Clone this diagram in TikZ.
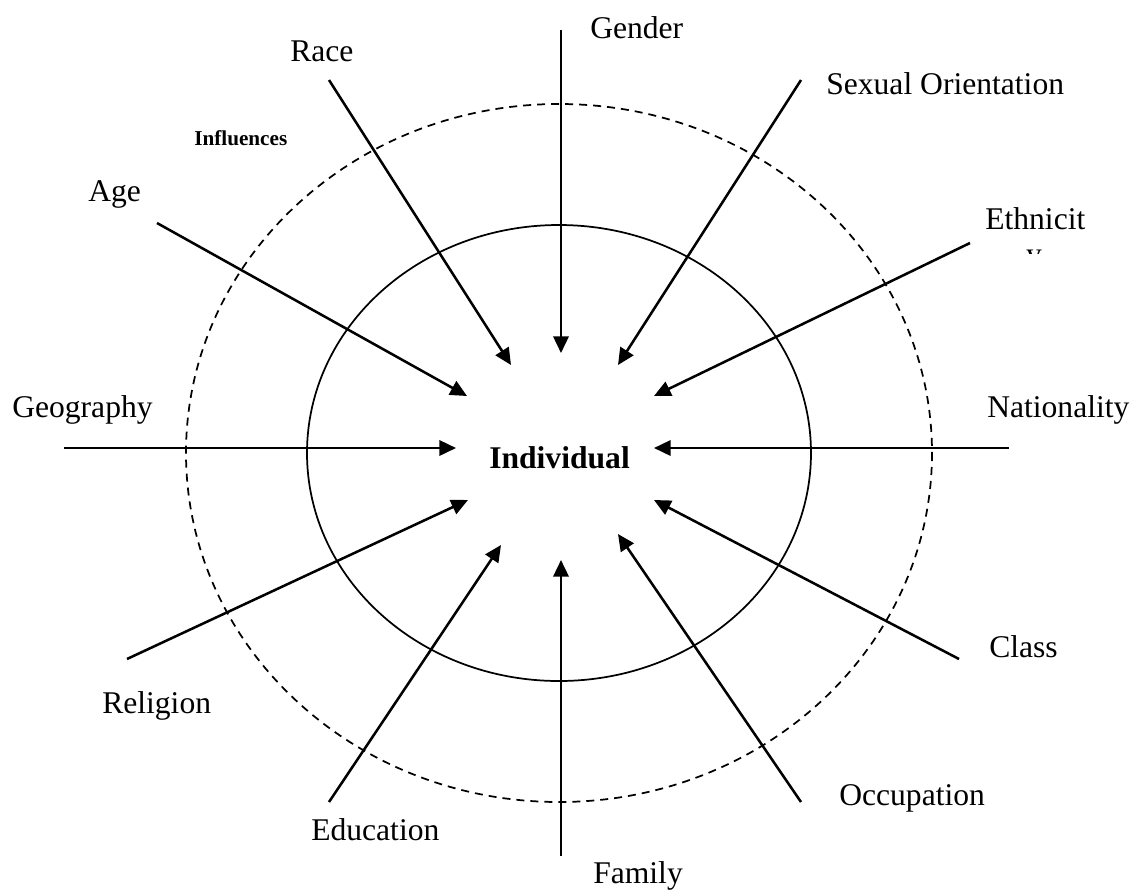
\documentclass[tikz,border=0pt]{standalone}
\usepackage{fontspec}
\setmainfont{Liberation Serif}
\usetikzlibrary{arrows.meta}

\begin{document}
\begin{tikzpicture}[x=0.75pt,y=-0.75pt,
  influence/.style={line width=1.9pt,-{Triangle[length=12.5pt,width=11.5pt]}},
  ring/.style={line width=1.3pt},
  outerring/.style={line width=1.3pt,dash pattern=on 6pt off 4.5pt},
  factor/.style={inner sep=0pt,anchor=base west,font=\fontsize{23.7}{28}\selectfont},
  centre/.style={inner sep=0pt,anchor=base west,font=\fontsize{23.7}{28}\selectfont\bfseries},
  caption/.style={inner sep=0pt,anchor=base west,font=\fontsize{15.9}{19}\selectfont\bfseries}]
\useasboundingbox (0,0) rectangle (1132,890);

% the two circles of influence
\draw[ring] (559,453) ellipse [x radius=252, y radius=228];
\draw[outerring] (559,453) ellipse [x radius=373, y radius=349];

% centre and caption
\node[centre] (individual) at (489,468) {Individual};
\node[caption] (influences) at (194,145) {Influences};

% factor labels
\node[factor] (gender)      at (590,38)  {Gender};
\node[factor] (race)        at (290,61)  {Race};
\node[factor] (sexual)      at (826,94)  {Sexual Orientation};
\node[factor] (age)         at (88,201)  {Age};
\node[factor] (ethnicity)   at (985,229) {Ethnicit};
\node[factor] (geography)   at (12,417)  {Geography};
\node[factor] (nationality) at (987,417) {Nationality};
\node[factor] (class)       at (989,657) {Class};
\node[factor] (religion)    at (102,713) {Religion};
\node[factor] (occupation)  at (839,805) {Occupation};
\node[factor] (education)   at (311,840) {Education};
\node[factor] (family)      at (593,883) {Family};

% wrapped tail of the Ethnicity label, cut off by its frame
\begin{scope}
  \clip (1015,249.5) rectangle (1055,253.5);
  \node[factor,anchor=base] (ethnicity-y) at (1034,264) {y};
\end{scope}

% arrow ends
\coordinate (gender-s)      at (561,30);   \coordinate (gender-t)      at (561,353);
\coordinate (race-s)        at (329,80);   \coordinate (race-t)        at (511,365);
\coordinate (sexual-s)      at (801,80);   \coordinate (sexual-t)      at (618,365);
\coordinate (age-s)         at (157,223);  \coordinate (age-t)         at (467,396);
\coordinate (ethnicity-s)   at (970,243);  \coordinate (ethnicity-t)   at (654,396);
\coordinate (geography-s)   at (64,448);   \coordinate (geography-t)   at (456,448);
\coordinate (nationality-s) at (1009,448); \coordinate (nationality-t) at (654,448);
\coordinate (religion-s)    at (127,659);  \coordinate (religion-t)    at (468,500);
\coordinate (class-s)       at (959,659);  \coordinate (class-t)       at (654,500);
\coordinate (education-s)   at (329,802);  \coordinate (education-t)   at (501,545);
\coordinate (family-s)      at (561,856);  \coordinate (family-t)      at (561,560);
\coordinate (occupation-s)  at (801,802);  \coordinate (occupation-t)  at (618,534);

% influences pointing at the individual
\foreach \f in {gender,race,sexual,age,ethnicity,geography,nationality,
                religion,class,education,family,occupation}
  \draw[influence] (\f-s) -- (\f-t);
\end{tikzpicture}
\end{document}
